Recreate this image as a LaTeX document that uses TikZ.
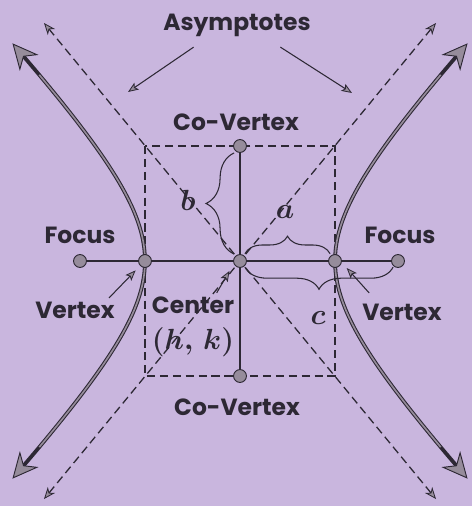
\documentclass[tikz,border=0pt]{standalone}
\usepackage{bm}
\usepackage{fontspec}
\newfontfamily\lblfont{Poppins}
\usetikzlibrary{arrows.meta, decorations.pathreplacing}
\definecolor{lavender}{RGB}{201,182,222}
\definecolor{ink}{RGB}{45,40,52}
\definecolor{dotgray}{RGB}{150,140,155}

\begin{document}
\begin{tikzpicture}[x=0.03cm, y=-0.03cm,
  lbl/.style={font=\lblfont\bfseries\fontsize{20}{22}\selectfont, text=ink, inner sep=1pt},
  var/.style={font=\fontsize{32}{34}\selectfont, text=ink, inner sep=1pt},
  pt/.style={circle, draw=ink, fill=dotgray, line width=0.8pt, inner sep=0pt, minimum size=11pt},
  guide/.style={ink, line width=1.1pt, dash pattern=on 7pt off 4pt},
  axis/.style={ink, line width=0.9pt},
  ptr/.style={ink, line width=0.9pt, -{Stealth[length=9pt, width=7pt, inset=2pt, line width=0.7pt, fill=dotgray]}},
  brc/.style={ink, line width=0.9pt, decorate, decoration={brace, amplitude=#1}},
  branch/.style={ink, line width=3.2pt, {Stealth[length=22pt, width=21pt, inset=7pt, line width=0.8pt, fill=dotgray]}-{Stealth[length=22pt, width=21pt, inset=7pt, line width=0.8pt, fill=dotgray]}},
  ]
  \fill[lavender] (0,0) rectangle (472,506);
  \useasboundingbox (0,0) rectangle (472,506);

  \coordinate (AT1) at (44,23);
  \coordinate (AT2) at (436,23);
  \coordinate (AB1) at (44,499);
  \coordinate (AB2) at (436,499);
  \coordinate (boxA) at (145,146);
  \coordinate (boxB) at (335,376);

  \draw[guide] (boxA) rectangle (boxB);
  \draw[guide, {Stealth[length=10pt, width=8pt, inset=3pt, line width=0.7pt, fill=dotgray]}-{Stealth[length=10pt, width=8pt, inset=3pt, line width=0.7pt, fill=dotgray]}] (AB2) -- (AT1);
  \draw[guide, {Stealth[length=10pt, width=8pt, inset=3pt, line width=0.7pt, fill=dotgray]}-{Stealth[length=10pt, width=8pt, inset=3pt, line width=0.7pt, fill=dotgray]}] (AB1) -- (AT2);

  \draw[branch] plot[domain=-1.52:1.52, samples=25, smooth, variable=\t] ({240-95*cosh(\t)}, {261+100*sinh(\t)});
  \draw[dotgray, line width=1.4pt] plot[domain=-1.38:1.38, samples=25, smooth, variable=\t] ({240-95*cosh(\t)}, {261+100*sinh(\t)});
  \draw[branch] plot[domain=-1.52:1.52, samples=25, smooth, variable=\t] ({240+95*cosh(\t)}, {261+100*sinh(\t)});
  \draw[dotgray, line width=1.4pt] plot[domain=-1.38:1.38, samples=25, smooth, variable=\t] ({240+95*cosh(\t)}, {261+100*sinh(\t)});

  \node[pt] (C) at (240,261) {};
  \node[pt] (V1) at (145,261) {};
  \node[pt] (V2) at (335,261) {};
  \node[pt] (F1) at (80,261) {};
  \node[pt] (F2) at (398,261) {};
  \node[pt] (CV1) at (240,146) {};
  \node[pt] (CV2) at (240,376) {};

  \draw[axis] (F1) -- (V1);
  \draw[axis] (V1) -- (C);
  \draw[axis] (C) -- (V2);
  \draw[axis] (V2) -- (F2);
  \draw[axis] (CV1) -- (C);
  \draw[axis] (C) -- (CV2);

  \draw[brc=24pt] ([xshift=-5pt]C.north) -- ([xshift=-5pt]CV1.south);
  \draw[brc=15pt] ([yshift=2pt]C.north east) -- ([yshift=2pt]V2.north west);
  \draw[brc=19pt] ([yshift=-1pt]F2.south west) -- ([yshift=-1pt]C.south east);

  \node[lbl] (asy) at (237,25) {Asymptotes};
  \node[lbl] (cvt) at (236,122) {Co-Vertex};
  \node[lbl] (cvb) at (237,407) {Co-Vertex};
  \node[lbl] (fl) at (80,235) {Focus};
  \node[lbl] (fr) at (400,235) {Focus};
  \node[lbl] (vl) at (75,310) {Vertex};
  \node[lbl] (vr) at (402,312) {Vertex};
  \node[lbl] (ctr) at (193,305) {Center};
  \node[var, font=\fontsize{24}{26}\selectfont] (hk) at (193,342) {$\bm{(h,\,k)}$};
  \node[var] (lb) at (188,200) {$\bm{b}$};
  \node[var] (la) at (285,212) {$\bm{a}$};
  \node[var] (lc) at (318,318) {$\bm{c}$};

  \coordinate (asyL) at (128,92);
  \coordinate (asyR) at (352,93);
  \draw[ptr] ([xshift=-37pt,yshift=-8pt]asy.south) -- (asyL);
  \draw[ptr] ([xshift=37pt,yshift=-8pt]asy.south) -- (asyR);
  \draw[ptr] ([xshift=-6pt,yshift=2pt]vl.north east) -- ([shift={(-8pt,-8pt)}]V1.center);
  \draw[ptr] ([xshift=-16pt,yshift=2pt]ctr.north east) -- ([shift={(-9pt,-8.5pt)}]C.center);
  \draw[ptr] ([shift={(7pt,8pt)}]vr.north west) -- ([shift={(10pt,-6pt)}]V2.center);
\end{tikzpicture}
\end{document}
